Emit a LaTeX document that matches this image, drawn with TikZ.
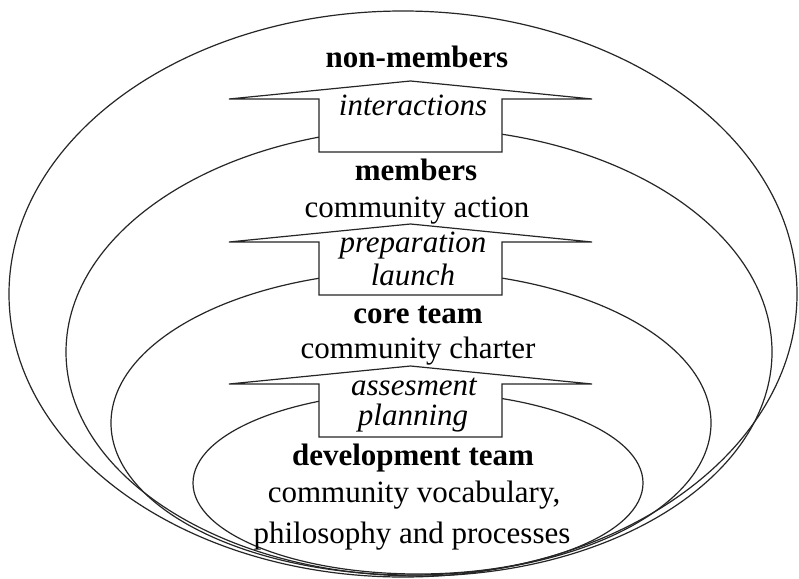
\documentclass[tikz,border=0pt]{standalone}
\usepackage{fontspec}
\setmainfont{Liberation Serif}
\begin{document}
\begin{tikzpicture}[x=1pt,y=-1pt,
  ring/.style={draw=black!85,line width=1.2pt},
  blockup/.style={draw=black!85,fill=white,line width=1.2pt,line join=miter},
  lbl/.style={anchor=base,inner sep=0pt,font=\fontsize{31}{37}\selectfont},
  hd/.style={lbl,font=\fontsize{31}{37}\selectfont\bfseries},
  act/.style={lbl,font=\fontsize{31}{37}\selectfont\itshape},
  uparr/.pic={\path[blockup] (-91.5,0) -- (-91.5,-53) -- (-181.5,-53) -- (0,-71) -- (181.5,-53) -- (91.5,-53) -- (91.5,0) -- cycle;}]
\useasboundingbox (0,0) rectangle (799,578);
\fill[white] (0,0) rectangle (799,578);
% nested rings
\draw[ring] (403,294) ellipse [x radius=394pt, y radius=283pt];
\draw[ring] (419,352) ellipse [x radius=353pt, y radius=224pt];
\draw[ring] (411,423) ellipse [x radius=300pt, y radius=152pt];
\draw[ring] (418,483) ellipse [x radius=225pt, y radius=91pt];
% block arrows
\pic (a1) at (410.5,152) {uparr};
\pic (a2) at (410.5,295) {uparr};
\pic (a3) at (410.5,437) {uparr};
% texts
\node[hd]  (nonmem) at (417,67)  {non-members};
\node[act] (inter)  at (413,115) {interactions};
\node[hd]  (mem)    at (416,180) {members};
\node[lbl] (cact)   at (417,217) {community action};
\node[act] (prep)   at (413,252) {preparation};
\node[act] (launch) at (413,285) {launch};
\node[hd]  (core)   at (418,323) {core team};
\node[lbl] (chart)  at (418,358) {community charter};
\node[act] (asses)  at (414,395) {assesment};
\node[act] (plan)   at (413,425) {planning};
\node[hd]  (dev)    at (413,465) {development team};
\node[lbl] (voc)    at (414,502) {community vocabulary,};
\node[lbl] (phil)   at (412,543) {philosophy and processes};
\end{tikzpicture}
\end{document}
